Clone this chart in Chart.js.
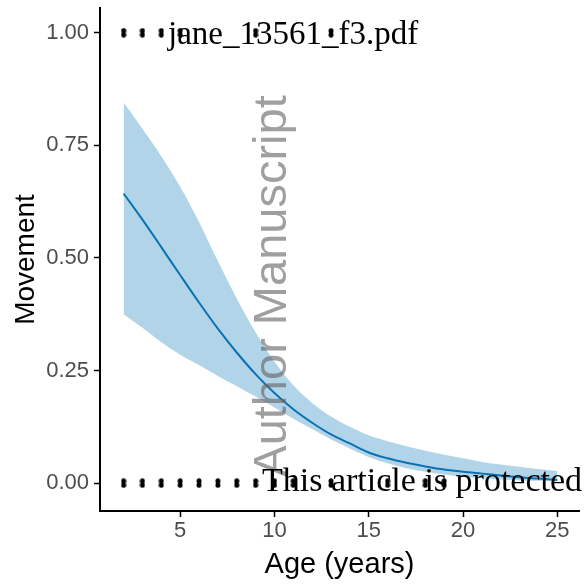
<!DOCTYPE html>
<html>
<head>
<meta charset="utf-8">
<script src="https://cdn.jsdelivr.net/npm/chart.js@4/dist/chart.umd.min.js"></script>
<style>
html,body{margin:0;padding:0;background:#fff;}
#wrap{width:584px;height:584px;position:relative;}
</style>
</head>
<body>
<div id="wrap"><canvas id="c" width="584" height="584"></canvas></div>
<script>
// ---- data ----
const ages = [2,3,4,5,6,7,8,9,10,11,12,13,14,15,16,17,18,19,20,21,22,23,24,25];
const fitMovement = [0.643,0.585,0.524,0.462,0.401,0.343,0.290,0.242,0.200,0.164,0.134,0.108,0.088,0.068,0.055,0.045,0.037,0.030,0.025,0.021,0.017,0.013,0.010,0.007];
const upperCI = [0.845,0.787,0.726,0.658,0.580,0.493,0.410,0.335,0.270,0.217,0.178,0.148,0.125,0.106,0.093,0.082,0.072,0.063,0.055,0.047,0.041,0.036,0.031,0.027];
const lowerCI = [0.375,0.345,0.313,0.285,0.262,0.238,0.215,0.192,0.168,0.143,0.120,0.097,0.077,0.058,0.044,0.033,0.025,0.019,0.014,0.011,0.008,0.006,0.005,0.004];
const movedAges = [2,3,4,5,9,13];
const movedValues = [1,1,1,1,1,1];
const stayedAges = [2,3,4,5,6,7,8,9,10,11,13,16,18,19];
const stayedValues = [0,0,0,0,0,0,0,0,0,0,0,0,0,0];
const xTicks = [5,10,15,20,25];
const yTicks = [0,0.25,0.5,0.75,1];
const xTitle = 'Age (years)';
const yTitle = 'Movement';

// point glyph: small vertical cluster of overlapping dots
const glyph = document.createElement('canvas');
glyph.width = 6; glyph.height = 10;
(function(){
  const g = glyph.getContext('2d');
  g.fillStyle = '#000';
  g.beginPath(); g.ellipse(3,3,2.5,2.7,0,0,Math.PI*2); g.fill();
  g.beginPath(); g.ellipse(3,7,2.5,2.7,0,0,Math.PI*2); g.fill();
})();

const toXY = (xs, ys) => xs.map((x,i)=>({x:x, y:ys[i]}));

const watermark = {
  id: 'watermark',
  afterDraw(chart){
    const ctx = chart.ctx;
    ctx.save();
    ctx.translate(273, 286);
    ctx.rotate(-Math.PI/2);
    ctx.font = '47px "Liberation Sans", Arial, sans-serif';
    ctx.fillStyle = 'rgba(95,95,95,0.6)';
    ctx.textAlign = 'center';
    ctx.textBaseline = 'middle';
    ctx.fillText('Author Manuscript', 0, 0);
    ctx.restore();
    ctx.save();
    ctx.font = '33px "Liberation Serif", "DejaVu Serif", serif';
    ctx.fillStyle = '#000';
    ctx.textAlign = 'left';
    ctx.textBaseline = 'alphabetic';
    ctx.fillText('jane_13561_f3.pdf', 168, 44);
    ctx.font = '34px "Liberation Serif", "DejaVu Serif", serif';
    ctx.fillText('This article is protected', 262, 491);
    ctx.restore();
  }
};

new Chart(document.getElementById('c'), {
  type: 'line',
  data: {
    datasets: [
      { label:'upper', data: toXY(ages, upperCI), borderWidth:0, pointRadius:0,
        backgroundColor:'rgba(0,114,178,0.3)', fill:'+1', cubicInterpolationMode:'monotone', order:5 },
      { label:'lower', data: toXY(ages, lowerCI), borderWidth:0, pointRadius:0,
        backgroundColor:'rgba(0,114,178,0.3)', fill:false, cubicInterpolationMode:'monotone', order:5 },
      { label:'fit', data: toXY(ages, fitMovement), borderColor:'#0a72b4', borderWidth:2, pointRadius:0,
        fill:false, cubicInterpolationMode:'monotone', order:4 },
      { label:'moved', type:'scatter', data: toXY(movedAges, movedValues), pointStyle: glyph, pointRadius:4,
        showLine:false, order:1, clip:false },
      { label:'stayed', type:'scatter', data: toXY(stayedAges, stayedValues), pointStyle: glyph, pointRadius:4,
        showLine:false, order:1, clip:false }
    ]
  },
  options: {
    responsive:false,
    animation:false,
    devicePixelRatio:1,
    layout:{ padding:{ top:8, right:4, left:0, bottom:0 } },
    plugins:{ legend:{display:false}, tooltip:{enabled:false} },
    scales:{
      x:{
        type:'linear', min:0.75, max:26.15,
        afterBuildTicks:(s)=>{ s.ticks = xTicks.map(v=>({value:v})); },
        afterFit:(s)=>{ s.height = 73; s.paddingLeft = 0; s.paddingRight = 0; },
        grid:{ drawOnChartArea:false, drawTicks:true, tickLength:6, color:'#000', tickWidth:1.5 },
        border:{ display:true, color:'#000', width:2 },
        ticks:{ color:'#4d4d4d', padding:1, font:{ family:'"Liberation Sans", Arial, sans-serif', size:22 },
          callback:(v)=>String(v), maxRotation:0 },
        title:{ display:true, text:xTitle, color:'#000', padding:{top:0,bottom:2},
          font:{ family:'"Liberation Sans", Arial, sans-serif', size:29 } }
      },
      y:{
        type:'linear', min:-0.062, max:1.055,
        afterBuildTicks:(s)=>{ s.ticks = yTicks.map(v=>({value:v})); },
        afterFit:(s)=>{ s.width = 100; s.paddingTop = 0; s.paddingBottom = 0; },
        grid:{ drawOnChartArea:false, drawTicks:true, tickLength:6, color:'#000', tickWidth:1.5 },
        border:{ display:true, color:'#000', width:2 },
        ticks:{ color:'#4d4d4d', padding:5, font:{ family:'"Liberation Sans", Arial, sans-serif', size:22 },
          callback:(v)=>Number(v).toFixed(2) },
        title:{ display:true, text:yTitle, color:'#000', padding:{top:9,bottom:0},
          font:{ family:'"Liberation Sans", Arial, sans-serif', size:28 } }
      }
    }
  },
  plugins:[watermark]
});
</script>
</body>
</html>
